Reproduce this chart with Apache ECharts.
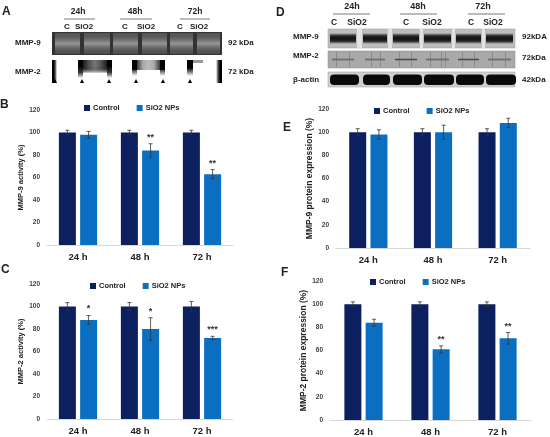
<!DOCTYPE html>
<html>
<head>
<meta charset="utf-8">
<script src="https://cdn.jsdelivr.net/npm/echarts@6/dist/echarts.min.js"></script>
<style>
html, body { margin: 0; padding: 0; background: #fff; }
#main { width: 550px; height: 437px; }
</style>
</head>
<body>
<div id="main"></div>
<script>
var categories = ['24 h', '48 h', '72 h'];
var yTicks = [0, 20, 40, 60, 80, 100, 120];

// B: MMP-9 activity (zymography)
var bControl = [100, 100, 100];
var bControlErr = [2, 2, 2];
var bSio2 = [98, 84, 63];
var bSio2Err = [3, 6, 4];
var bStars = ['', '**', '**'];

// C: MMP-2 activity
var cControl = [100, 100, 100];
var cControlErr = [3.5, 3.5, 4.5];
var cSio2 = [88, 80, 72];
var cSio2Err = [4, 10, 1.5];
var cStars = ['*', '*', '***'];

// E: MMP-9 protein expression
var eControl = [100, 100, 100];
var eControlErr = [3, 3, 3];
var eSio2 = [98, 100, 108];
var eSio2Err = [4, 6, 4];
var eStars = ['', '', ''];

// F: MMP-2 protein expression
var fControl = [100, 100, 100];
var fControlErr = [2, 2, 2];
var fSio2 = [84, 61, 70.5];
var fSio2Err = [3, 3, 5];
var fStars = ['', '**', '**'];

var navy = '#0c1f5f';
var blue = '#0b6fc1';
var barW = 17;
var barOff = 10.6;

var dom = document.getElementById('main');
var myChart = echarts.init(dom);

function errSeries(idx, means, errs, stars, off) {
    var data = means.map(function (m, i) { return [i, m, errs[i]]; });
    return {
        type: 'custom',
        xAxisIndex: idx,
        yAxisIndex: idx,
        silent: true,
        z: 5,
        data: data,
        renderItem: function (params, api) {
            var i = api.value(0), m = api.value(1), e = api.value(2);
            var top = api.coord([i, m + e]);
            var bot = api.coord([i, m - e]);
            var x = top[0] + off;
            var st = { stroke: '#333', lineWidth: 0.8 };
            var kids = [
                { type: 'line', shape: { x1: x, y1: top[1], x2: x, y2: bot[1] }, style: st },
                { type: 'line', shape: { x1: x - 2, y1: top[1], x2: x + 2, y2: top[1] }, style: st },
                { type: 'line', shape: { x1: x - 2, y1: bot[1], x2: x + 2, y2: bot[1] }, style: st }
            ];
            var s = stars[params.dataIndex];
            if (s) {
                kids.push({ type: 'text', style: { text: s, x: x, y: top[1] - 2, textAlign: 'center',
                    textVerticalAlign: 'bottom', font: 'bold 9px Arial', fill: '#333' } });
            }
            return { type: 'group', children: kids };
        }
    };
}

function barPair(idx, ctrl, sio2) {
    return [
        { name: 'Control', type: 'bar', xAxisIndex: idx, yAxisIndex: idx, data: ctrl,
          barWidth: barW, barGap: '25%', itemStyle: { color: navy } },
        { name: 'SiO2 NPs', type: 'bar', xAxisIndex: idx, yAxisIndex: idx, data: sio2,
          barWidth: barW, barGap: '25%', itemStyle: { color: blue } }
    ];
}

var grids = [
    { left: 47, top: 110, width: 186, height: 135 },
    { left: 47, top: 284, width: 186, height: 135 },
    { left: 336, top: 109, width: 194, height: 139 },
    { left: 330, top: 281, width: 201, height: 139 }
];
var yNames = ['MMP-9 activity (%)', 'MMP-2 activity (%)',
    'MMP-9 protein expression (%)', 'MMP-2 protein expression (%)'];
var nameGaps = [22, 22, 22, 20];
var nameSizes = [7.5, 7.5, 8.5, 8.5];

var xAxes = grids.map(function (g, i) {
    return {
        type: 'category', gridIndex: i, data: categories,
        axisLine: { lineStyle: { color: '#d9d9d9', width: 1 } },
        axisTick: { show: false },
        axisLabel: { fontSize: 9.5, fontWeight: 'bold', color: '#222', margin: 7, fontFamily: 'Arial' }
    };
});
var yAxes = grids.map(function (g, i) {
    return {
        type: 'value', gridIndex: i, min: yTicks[0], max: yTicks[yTicks.length - 1], interval: 20,
        name: yNames[i], nameLocation: 'middle', nameGap: nameGaps[i],
        nameTextStyle: { fontSize: nameSizes[i], fontWeight: 'bold', color: '#222', fontFamily: 'Arial' },
        axisLine: { show: false }, axisTick: { show: false }, splitLine: { show: false },
        axisLabel: { fontSize: 6.5, fontWeight: 'bold', color: '#404040', margin: 7, fontFamily: 'Arial' }
    };
});

var legendPos = [[84, 104], [90, 282], [374, 107], [370, 278]];
var legends = legendPos.map(function (p) {
    return {
        data: ['Control', 'SiO2 NPs'], left: p[0], top: p[1], padding: 0,
        itemWidth: 6, itemHeight: 6, itemGap: 17, icon: 'rect', selectedMode: false,
        textStyle: { fontSize: 7.5, fontWeight: 'bold', color: '#222', fontFamily: 'Arial', padding: [0, 0, 0, -2] }
    };
});

var series = [].concat(
    barPair(0, bControl, bSio2),
    [errSeries(0, bControl, bControlErr, ['', '', ''], -barOff), errSeries(0, bSio2, bSio2Err, bStars, barOff)],
    barPair(1, cControl, cSio2),
    [errSeries(1, cControl, cControlErr, ['', '', ''], -barOff), errSeries(1, cSio2, cSio2Err, cStars, barOff)],
    barPair(2, eControl, eSio2),
    [errSeries(2, eControl, eControlErr, ['', '', ''], -barOff), errSeries(2, eSio2, eSio2Err, eStars, barOff)],
    barPair(3, fControl, fSio2),
    [errSeries(3, fControl, fControlErr, ['', '', ''], -barOff), errSeries(3, fSio2, fSio2Err, fStars, barOff)]
);

// ---- gel / blot pictures (decoration only) ----
var g = [];
function txt(s, x, y, size, align) {
    g.push({ type: 'text', style: { text: s, x: x, y: y, font: 'bold ' + size + 'px Arial', fill: '#222',
        textAlign: align || 'left', textVerticalAlign: 'middle' } });
}
function rect(x, y, w, h, fill, extra) {
    var o = { type: 'rect', shape: { x: x, y: y, width: w, height: h }, style: { fill: fill } };
    if (extra) { for (var k in extra) o.style[k] = extra[k]; }
    g.push(o);
}
function vgrad(stops) {
    return new echarts.graphic.LinearGradient(0, 0, 0, 1, stops.map(function (c, i) {
        return { offset: i / (stops.length - 1), color: c };
    }));
}
function hgrad(stops) {
    return new echarts.graphic.LinearGradient(0, 0, 1, 0, stops.map(function (c, i) {
        return { offset: i / (stops.length - 1), color: c };
    }));
}

// panel letters
txt('A', 2, 12, 12); txt('B', 0, 105, 12); txt('C', 1, 270, 12);
txt('D', 276, 13, 12); txt('E', 283, 128, 12); txt('F', 281, 273, 12);

// headers
var aTimes = [['24h', 78, 64, 95, 67, 84], ['48h', 135, 120, 152, 125, 146], ['72h', 195, 180, 210, 180, 199]];
aTimes.forEach(function (t) {
    txt(t[0], t[1], 12, 8.5, 'center');
    g.push({ type: 'line', shape: { x1: t[2], y1: 19, x2: t[3], y2: 19 }, style: { stroke: '#555', lineWidth: 0.8 } });
    txt('C', t[4], 27, 8, 'center'); txt('SiO2', t[5], 27, 8, 'center');
});
var dTimes = [['24h', 352, 333, 370, 334, 357], ['48h', 418, 400, 437, 406, 432], ['72h', 483, 468, 505, 471, 493]];
dTimes.forEach(function (t) {
    txt(t[0], t[1], 7, 9, 'center');
    g.push({ type: 'line', shape: { x1: t[2], y1: 14, x2: t[3], y2: 14 }, style: { stroke: '#555', lineWidth: 0.8 } });
    txt('C', t[4], 23, 8.5, 'center'); txt('SiO2', t[5], 23, 8.5, 'center');
});

// A: MMP-9 zymogram
rect(52, 32, 170, 23, '#333333');
var aLanes = [[55, 80], [84, 110], [113, 138], [142, 167], [170, 193], [197, 220]];
aLanes.forEach(function (l) {
    rect(l[0], 33, l[1] - l[0], 21, vgrad(['#555555', '#5a5a5a', '#707070', '#959595', '#707070', '#575757', '#4e4e4e']));
});
txt('MMP-9', 15, 43, 8); txt('92 kDa', 228, 43, 8);

// A: MMP-2 zymogram (white gel, dark lane edges)
rect(52, 60, 5, 23, hgrad(['#000', '#000', '#555', '#fff']));
rect(78, 60, 34, 13, hgrad(['#000', '#222', '#555', '#777', '#555', '#222', '#000']));
rect(78, 60, 34, 20, vgrad(['rgba(0,0,0,0)', 'rgba(0,0,0,0)', 'rgba(255,255,255,0.9)', '#fff']));
rect(78, 60, 5, 18, vgrad(['#000', '#000', '#333', 'rgba(0,0,0,0)']));
rect(107, 60, 5, 18, vgrad(['#000', '#000', '#333', 'rgba(0,0,0,0)']));
rect(132, 60, 33, 10, hgrad(['#000', '#444', '#aaa', '#bbb', '#aaa', '#444', '#000']));
rect(132, 60, 5, 16, vgrad(['#000', '#000', 'rgba(0,0,0,0)']));
rect(160, 60, 5, 16, vgrad(['#000', '#000', 'rgba(0,0,0,0)']));
rect(187, 60, 6, 16, vgrad(['#000', '#000', 'rgba(0,0,0,0)']));
rect(193, 60, 10, 3, '#999');
rect(216, 60, 6, 23, hgrad(['#fff', '#555', '#000', '#000']));
[53, 80, 107, 134, 161, 188].forEach(function (x) {
    g.push({ type: 'polygon', shape: { points: [[x, 83], [x + 2, 79], [x + 4, 83]] }, style: { fill: '#000' } });
});
txt('MMP-2', 15, 72, 8); txt('72 kDa', 228, 72, 8);

// D: western blots
rect(328, 29, 187, 19, '#bdbdbd', { stroke: '#999', lineWidth: 0.5 });
[[357, 5], [388, 4], [420, 3], [452, 3], [482, 3]].forEach(function (s) { rect(s[0], 29, s[1], 19, '#e2e2e2'); });
var dLanes = [[330, 356], [363, 387], [393, 419], [424, 451], [456, 481], [486, 513]];
dLanes.forEach(function (l) {
    rect(l[0], 33, l[1] - l[0], 11, vgrad(['rgba(40,40,40,0)', '#2a2a2a', '#111111', '#2a2a2a', 'rgba(40,40,40,0)']));
});
rect(328, 51, 187, 17, '#a9a9a9', { stroke: '#888', lineWidth: 0.5 });
[336, 349, 371, 380, 399, 411, 430, 441, 445, 462, 474, 492, 505].forEach(function (x) {
    rect(x, 52, 1, 15, 'rgba(80,80,80,0.35)');
});
dLanes.forEach(function (l, i) {
    rect(l[0] + 2, 58, l[1] - l[0] - 4, 3, vgrad(['rgba(90,90,90,0)', i === 2 || i === 4 ? '#4a4a4a' : '#6e6e6e', 'rgba(90,90,90,0)']));
});
rect(328, 72, 187, 15, '#cfcfcf', { stroke: '#999', lineWidth: 0.5 });
dLanes.forEach(function (l) {
    g.push({ type: 'rect', shape: { x: l[0], y: 74.5, width: l[1] - l[0] + 3, height: 10.5, r: 4 },
        style: { fill: '#0a0a0a' } });
});
txt('MMP-9', 293, 37, 8); txt('MMP-2', 293, 56, 8); txt('\u03b2-actin', 293, 80, 8);
txt('92kDA', 522, 37, 8); txt('72kDa', 522, 58, 8); txt('42kDa', 522, 80, 8);

var option = {
    animation: false,
    backgroundColor: '#fff',
    textStyle: { fontFamily: 'Arial' },
    legend: legends,
    grid: grids,
    xAxis: xAxes,
    yAxis: yAxes,
    series: series,
    graphic: { elements: g }
};

if (option && typeof option === 'object') {
    myChart.setOption(option, true);
}
</script>
</body>
</html>
